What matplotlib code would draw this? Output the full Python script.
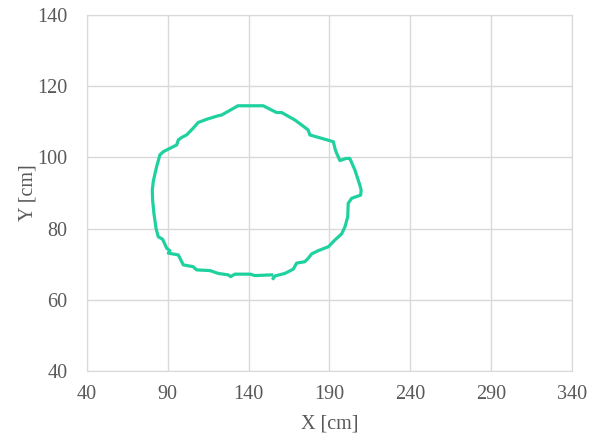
import matplotlib.pyplot as plt

# contour points (cm), traced around the shape
x_cm = [155.2, 156.3, 162.4, 167.6, 169.7, 174.8, 176.9, 179.0, 183.1, 189.3,
        193.4, 197.5, 199.6, 201.3, 201.6, 203.7, 209.3, 209.6, 208.8, 207.8,
        205.7, 202.6, 200.2, 196.5, 194.4, 193.4, 192.4, 177.9, 176.8, 172.8,
        168.6, 165.5, 160.4, 157.3, 154.2, 149.0, 140.0, 133.4, 123.3, 121.2,
        114.0, 108.8, 105.7, 101.6, 98.6, 96.5, 95.5, 87.2, 85.1, 83.1,
        82.1, 81.0, 80.4, 80.6, 81.4, 82.7, 84.1, 86.8, 89.3, 91.3,
        90.3, 96.5, 99.6, 105.7, 107.8, 116.1, 121.2, 127.4, 128.9, 131.5,
        140.8, 143.9, 154.2]
y_cm = [66.0, 66.7, 67.4, 68.6, 70.3, 70.7, 71.7, 72.9, 73.8, 74.9,
        76.8, 78.5, 80.5, 83.3, 87.1, 88.5, 89.4, 90.8, 92.2, 93.6,
        96.5, 99.7, 99.7, 99.1, 101.2, 102.5, 104.4, 106.3, 107.7, 109.1,
        110.5, 111.3, 112.6, 112.6, 113.3, 114.5, 114.5, 114.5, 111.9, 111.7,
        110.7, 109.8, 108.2, 106.3, 105.6, 104.9, 103.5, 101.6, 100.7, 97.4,
        95.5, 93.2, 90.8, 88.0, 84.3, 80.1, 77.7, 77.0, 74.5, 73.8,
        73.1, 72.6, 69.8, 69.3, 68.4, 68.2, 67.4, 67.0, 66.5, 67.2,
        67.2, 66.8, 67.0]

x_ticks = [40, 90, 140, 190, 240, 290, 340]
y_ticks = [40, 60, 80, 100, 120, 140]

plt.rcParams['font.family'] = ['Liberation Serif', 'DejaVu Serif']

fig = plt.figure(figsize=(5.97, 4.38), dpi=100)
ax = fig.add_axes([0.1457, 0.153, 0.8123, 0.8128])

ax.plot(x_cm, y_cm, color='#1fd19e', linewidth=2.3, solid_joinstyle='round')

ax.set_xlim(40, 340)
ax.set_ylim(40, 140)
ax.set_xticks(x_ticks)
ax.set_yticks(y_ticks)
ax.grid(True, color='#d9d9d9', linewidth=1)
ax.set_axisbelow(True)
for s in ax.spines.values():
    s.set_color('#d9d9d9')
ax.tick_params(length=0, labelsize=14.5, labelcolor='#595959')
ax.tick_params(axis='y', pad=14)
ax.tick_params(axis='x', pad=10)

ax.set_xlabel('X [cm]', fontsize=14.5, color='#595959', labelpad=8)
ax.set_ylabel('Y [cm]', fontsize=14.5, color='#595959', labelpad=0)

fig.savefig('out.png', dpi=100)
